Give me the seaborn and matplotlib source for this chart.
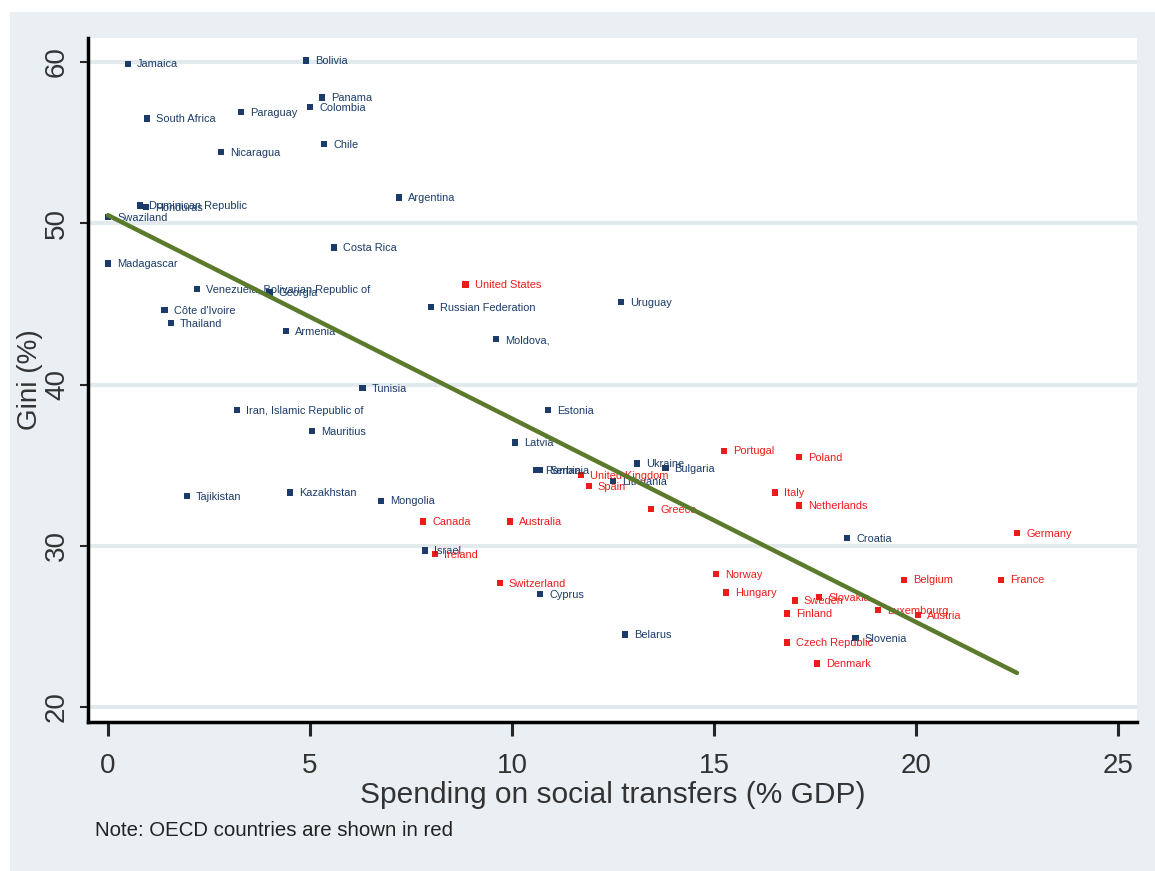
import matplotlib
matplotlib.use("Agg")
import matplotlib.pyplot as plt
from matplotlib.patches import Rectangle
from matplotlib import font_manager
import seaborn as sns
import pandas as pd
import numpy as np

# Country data: social transfer spending (% GDP) and Gini (%)
countries = [
    "Jamaica", "Bolivia", "Panama", "Colombia", "Paraguay", "South Africa",
    "Nicaragua", "Chile", "Argentina", "Dominican Republic", "Honduras",
    "Swaziland", "Costa Rica", "Madagascar", "Venezuela, Bolivarian Republic of",
    "Georgia", "Côte d'Ivoire", "Thailand", "Armenia", "Russian Federation",
    "Uruguay", "Moldova,", "Tunisia", "Iran, Islamic Republic of", "Mauritius",
    "Tajikistan", "Kazakhstan", "Mongolia", "Estonia", "Latvia", "Romania",
    "Serbia", "Lithuania", "Ukraine", "Bulgaria", "Croatia", "Israel",
    "Cyprus", "Belarus", "Slovenia",
    "United States", "Portugal", "Poland", "Italy", "Netherlands", "Germany",
    "United Kingdom", "Spain", "Greece", "Canada", "Australia", "Ireland",
    "Switzerland", "Norway", "Hungary", "Sweden", "Slovakia", "Finland",
    "Belgium", "France", "Luxembourg", "Austria", "Czech Republic", "Denmark",
]
spending = [
    0.5, 4.9, 5.3, 5.0, 3.3, 0.97,
    2.8, 5.35, 7.2, 0.8, 0.95,
    0.0, 5.6, 0.0, 2.2,
    4.0, 1.4, 1.55, 4.4, 8.0,
    12.7, 9.6, 6.3, 3.2, 5.05,
    1.95, 4.5, 6.75, 10.9, 10.07, 10.6,
    10.7, 12.5, 13.1, 13.8, 18.3, 7.85,
    10.7, 12.8, 18.5,
    8.85, 15.25, 17.1, 16.5, 17.1, 22.5,
    11.7, 11.9, 13.45, 7.8, 9.95, 8.1,
    9.7, 15.05, 15.3, 17.0, 17.6, 16.8,
    19.7, 22.1, 19.05, 20.05, 16.8, 17.55,
]
gini = [
    59.9, 60.1, 57.8, 57.2, 56.9, 56.5,
    54.4, 54.9, 51.6, 51.1, 51.0,
    50.4, 48.5, 47.5, 45.9,
    45.7, 44.6, 43.8, 43.3, 44.8,
    45.1, 42.8, 39.8, 38.4, 37.1,
    33.1, 33.3, 32.8, 38.4, 36.4, 34.7,
    34.7, 34.0, 35.1, 34.8, 30.5, 29.7,
    27.0, 24.5, 24.3,
    46.2, 35.9, 35.5, 33.3, 32.5, 30.8,
    34.4, 33.7, 32.3, 31.5, 31.5, 29.5,
    27.7, 28.25, 27.1, 26.6, 26.8, 25.8,
    27.9, 27.9, 26.0, 25.7, 24.0, 22.7,
]
group = ["Other"] * 40 + ["OECD"] * 24

x_ticks = [0, 5, 10, 15, 20, 25]
y_ticks = [20, 30, 40, 50, 60]

df = pd.DataFrame({"country": countries, "spending": spending,
                   "gini": gini, "group": group})

NAVY = "#1b3c6a"
RED = "#ee1b1b"
PANEL = "#e9eff2"
palette = {"Other": NAVY, "OECD": RED}

sns.set_theme(style="white")
names = {f.name for f in font_manager.fontManager.ttflist}
narrow = "Liberation Sans Narrow" if "Liberation Sans Narrow" in names else "Liberation Sans"
plt.rcParams["font.family"] = ["Liberation Sans", "DejaVu Sans"]

fig = plt.figure(figsize=(11.55, 8.71), dpi=100, facecolor="white")
# grey panel behind the chart
fig.patches.append(Rectangle((10 / 1155, 0), 1, (871 - 12) / 871,
                             transform=fig.transFigure, facecolor=PANEL,
                             edgecolor="none", zorder=-10))

ax = fig.add_axes([88 / 1155, 1 - 722 / 871, (1137 - 88) / 1155, (722 - 38) / 871])
ax.set_facecolor("white")

for yv in y_ticks:
    ax.axhline(yv, color="#e3eaee", lw=3, zorder=0)

sns.scatterplot(data=df, x="spending", y="gini", hue="group", palette=palette,
                marker="s", s=20, linewidth=0, legend=False, ax=ax, zorder=3)

# country names sit just to the right of each marker
for name, xv, yv, grp in zip(countries, spending, gini, group):
    ax.annotate(name, (xv, yv), xytext=(6.5, -0.6), textcoords="offset points",
                fontsize=7.9, color=palette[grp], va="center", ha="left",
                zorder=4)

sns.regplot(data=df, x="spending", y="gini", scatter=False, ci=None,
            truncate=True, ax=ax, line_kws={"color": "#5b7a2c", "lw": 3.2,
                                            "zorder": 5})

ax.set_xlim(-0.495, 25.47)
ax.set_ylim(19.07, 61.49)
ax.set_xticks(x_ticks)
ax.set_yticks(y_ticks)
ax.set_xticklabels([str(v) for v in x_ticks], fontfamily=narrow, fontsize=20,
                   color="#333333")
ax.set_yticklabels([str(v) for v in y_ticks], fontfamily=narrow, fontsize=20,
                   color="#333333", rotation=90, va="center")
ax.tick_params(axis="x", direction="out", length=10, width=2.2, pad=12,
               bottom=True)
ax.tick_params(axis="y", direction="out", length=6, width=1.5, pad=7,
               left=True)

for side in ["top", "right"]:
    ax.spines[side].set_visible(False)
for side in ["left", "bottom"]:
    ax.spines[side].set_visible(True)
    ax.spines[side].set_color("black")
    ax.spines[side].set_linewidth(2.5)

ax.set_xlabel("Spending on social transfers (% GDP)", fontfamily=narrow,
              fontsize=21.5, color="#333333", labelpad=2)
ax.set_ylabel("Gini (%)", fontfamily=narrow, fontsize=20, color="#333333",
              labelpad=1)

fig.text(95 / 1155, 1 - 830 / 871, "Note: OECD countries are shown in red",
         fontfamily=narrow, fontsize=14.7, color="#222222", va="center",
         ha="left")

fig.savefig("out.png", dpi=100, facecolor="white")
